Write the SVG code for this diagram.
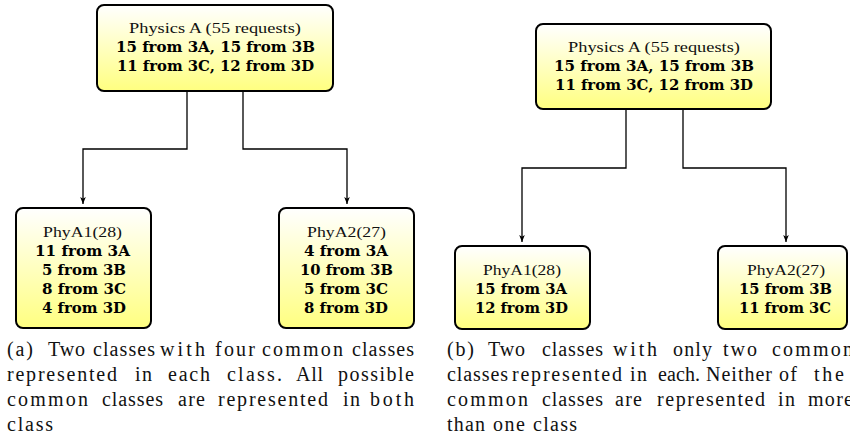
<svg xmlns="http://www.w3.org/2000/svg" width="850" height="438" viewBox="0 0 850 438">
<style>
.box{fill:url(#yg);stroke:#000;stroke-width:2}
.t{font-family:"Liberation Serif","Times New Roman",serif;font-size:15px;fill:#111}
.b{font-family:"DejaVu Serif",serif;font-weight:bold;font-size:14px;fill:#000}
.cap{font-family:"Liberation Serif","Times New Roman",serif;font-size:20px;fill:#111}
.edge{fill:none;stroke:#000;stroke-width:1.3;marker-end:url(#arr)}
</style>
<defs>
<linearGradient id="yg" x1="0" y1="0" x2="0" y2="1">
<stop offset="0" stop-color="#ffffff"/>
<stop offset="1" stop-color="#ffff80"/>
</linearGradient>
<marker id="arr" viewBox="0 0 10 10" refX="10" refY="5" markerWidth="7" markerHeight="7" markerUnits="userSpaceOnUse" orient="auto">
<path d="M0,1 L10,5 L0,9 L2.5,5 Z" fill="#000"/>
</marker>
</defs>
<rect width="850" height="438" fill="#fff"/>

<g id="connectors">
<path class="edge" d="M187,92 V149 H83 V204"/>
<path class="edge" d="M243,92 V149 H347 V204"/>
<path class="edge" d="M626,110 V168 H522 V242"/>
<path class="edge" d="M683,110 V168 H786 V242"/>
</g>

<g id="a-physicsA">
<rect class="box" x="97" y="5" width="236" height="86" rx="7"/>
<text class="t" x="129" y="33" textLength="172" lengthAdjust="spacingAndGlyphs">Physics A (55 requests)</text>
<text class="b" x="116" y="52" textLength="199" lengthAdjust="spacingAndGlyphs">15 from 3A, 15 from 3B</text>
<text class="b" x="117" y="71" textLength="197" lengthAdjust="spacingAndGlyphs">11 from 3C, 12 from 3D</text>
</g>

<g id="a-phyA1">
<rect class="box" x="16" y="208" width="135" height="120" rx="7"/>
<text class="t" x="43" y="236.5" textLength="79" lengthAdjust="spacingAndGlyphs">PhyA1(28)</text>
<text class="b" x="35" y="255.5" textLength="95" lengthAdjust="spacingAndGlyphs">11 from 3A</text>
<text class="b" x="42" y="274.5" textLength="84" lengthAdjust="spacingAndGlyphs">5 from 3B</text>
<text class="b" x="42" y="293.5" textLength="84" lengthAdjust="spacingAndGlyphs">8 from 3C</text>
<text class="b" x="42" y="312.5" textLength="84" lengthAdjust="spacingAndGlyphs">4 from 3D</text>
</g>

<g id="a-phyA2">
<rect class="box" x="279" y="208" width="135" height="120" rx="7"/>
<text class="t" x="307" y="236.5" textLength="79" lengthAdjust="spacingAndGlyphs">PhyA2(27)</text>
<text class="b" x="304" y="255.5" textLength="84" lengthAdjust="spacingAndGlyphs">4 from 3A</text>
<text class="b" x="300" y="274.5" textLength="93" lengthAdjust="spacingAndGlyphs">10 from 3B</text>
<text class="b" x="304" y="293.5" textLength="84" lengthAdjust="spacingAndGlyphs">5 from 3C</text>
<text class="b" x="304" y="312.5" textLength="84" lengthAdjust="spacingAndGlyphs">8 from 3D</text>
</g>

<g id="b-physicsA">
<rect class="box" x="536" y="24" width="235" height="85" rx="7"/>
<text class="t" x="568" y="52" textLength="172" lengthAdjust="spacingAndGlyphs">Physics A (55 requests)</text>
<text class="b" x="554" y="71" textLength="200" lengthAdjust="spacingAndGlyphs">15 from 3A, 15 from 3B</text>
<text class="b" x="555" y="90" textLength="198" lengthAdjust="spacingAndGlyphs">11 from 3C, 12 from 3D</text>
</g>

<g id="b-phyA1">
<rect class="box" x="455" y="246" width="135" height="83" rx="7"/>
<text class="t" x="483" y="275" textLength="78" lengthAdjust="spacingAndGlyphs">PhyA1(28)</text>
<text class="b" x="475" y="294" textLength="92" lengthAdjust="spacingAndGlyphs">15 from 3A</text>
<text class="b" x="475" y="313" textLength="93" lengthAdjust="spacingAndGlyphs">12 from 3D</text>
</g>

<g id="b-phyA2">
<rect class="box" x="718" y="246" width="129" height="83" rx="7"/>
<text class="t" x="747" y="275" textLength="78" lengthAdjust="spacingAndGlyphs">PhyA2(27)</text>
<text class="b" x="739" y="294" textLength="93" lengthAdjust="spacingAndGlyphs">15 from 3B</text>
<text class="b" x="739" y="313" textLength="92" lengthAdjust="spacingAndGlyphs">11 from 3C</text>
</g>

<g id="caption-a">
<text class="cap" y="356"><tspan x="7" textLength="26" lengthAdjust="spacing">(a)</tspan> <tspan x="48" textLength="37" lengthAdjust="spacing">Two</tspan> <tspan x="93" textLength="62" lengthAdjust="spacing">classes</tspan> <tspan x="160" textLength="45" lengthAdjust="spacing">with</tspan> <tspan x="215" textLength="40" lengthAdjust="spacing">four</tspan> <tspan x="262" textLength="81" lengthAdjust="spacing">common</tspan> <tspan x="352" textLength="62" lengthAdjust="spacing">classes</tspan></text>
<text class="cap" y="381"><tspan x="7" textLength="110" lengthAdjust="spacing">represented</tspan> <tspan x="135" textLength="17" lengthAdjust="spacing">in</tspan> <tspan x="168" textLength="42" lengthAdjust="spacing">each</tspan> <tspan x="227" textLength="55" lengthAdjust="spacing">class.</tspan> <tspan x="296" textLength="27" lengthAdjust="spacing">All</tspan> <tspan x="338" textLength="76" lengthAdjust="spacing">possible</tspan></text>
<text class="cap" y="406"><tspan x="7" textLength="81" lengthAdjust="spacing">common</tspan> <tspan x="102" textLength="61" lengthAdjust="spacing">classes</tspan> <tspan x="178" textLength="27" lengthAdjust="spacing">are</tspan> <tspan x="218" textLength="110" lengthAdjust="spacing">represented</tspan> <tspan x="343" textLength="17" lengthAdjust="spacing">in</tspan> <tspan x="370" textLength="44" lengthAdjust="spacing">both</tspan></text>
<text class="cap" y="431"><tspan x="7" textLength="46" lengthAdjust="spacing">class</tspan></text>
</g>

<g id="caption-b">
<text class="cap" y="356"><tspan x="447" textLength="27" lengthAdjust="spacing">(b)</tspan> <tspan x="488" textLength="37" lengthAdjust="spacing">Two</tspan> <tspan x="542" textLength="61" lengthAdjust="spacing">classes</tspan> <tspan x="613" textLength="44" lengthAdjust="spacing">with</tspan> <tspan x="673" textLength="39" lengthAdjust="spacing">only</tspan> <tspan x="723" textLength="34" lengthAdjust="spacing">two</tspan> <tspan x="772" textLength="81" lengthAdjust="spacing">common</tspan></text>
<text class="cap" y="381"><tspan x="447" textLength="61" lengthAdjust="spacing">classes</tspan> <tspan x="512" textLength="110" lengthAdjust="spacing">represented</tspan> <tspan x="630" textLength="17" lengthAdjust="spacing">in</tspan> <tspan x="658" textLength="42" lengthAdjust="spacing">each.</tspan> <tspan x="706" textLength="66" lengthAdjust="spacing">Neither</tspan> <tspan x="779" textLength="18" lengthAdjust="spacing">of</tspan> <tspan x="814" textLength="30" lengthAdjust="spacing">the</tspan></text>
<text class="cap" y="406"><tspan x="447" textLength="81" lengthAdjust="spacing">common</tspan> <tspan x="542" textLength="61" lengthAdjust="spacing">classes</tspan> <tspan x="615" textLength="27" lengthAdjust="spacing">are</tspan> <tspan x="657" textLength="108" lengthAdjust="spacing">represented</tspan> <tspan x="778" textLength="17" lengthAdjust="spacing">in</tspan> <tspan x="808" textLength="45" lengthAdjust="spacing">more</tspan></text>
<text class="cap" y="431"><tspan x="447" textLength="38" lengthAdjust="spacing">than</tspan> <tspan x="493" textLength="32" lengthAdjust="spacing">one</tspan> <tspan x="533" textLength="44" lengthAdjust="spacing">class</tspan></text>
</g>
</svg>
